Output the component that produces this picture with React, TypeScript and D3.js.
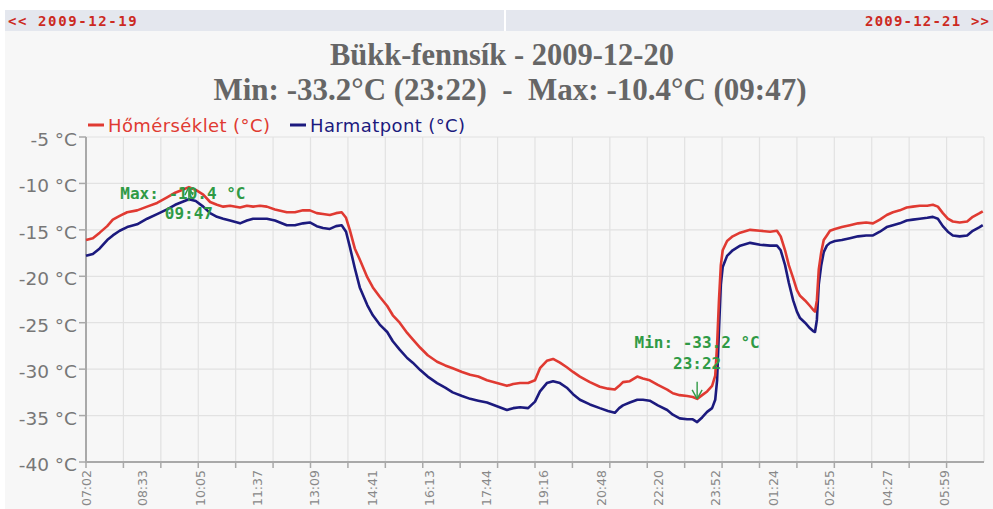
import React from "react";
import * as d3 from "d3";

const times = [
  "07:02","07:13","07:24","07:36","07:45","07:56","08:08","08:24","08:40","08:56",
  "09:12","09:25","09:36","09:47","09:58","10:10","10:21","10:32","10:42","10:53",
  "11:09","11:20","11:30","11:41","11:52","12:05","12:24","12:37","12:50","13:01",
  "13:12","13:22","13:33","13:43","13:52","13:59","14:05","14:13","14:21","14:33",
  "14:42","14:53","15:05","15:14","15:25","15:37","15:46","15:58","16:10","16:25",
  "16:38","16:50","17:05","17:18","17:31","17:45","18:01","18:17","18:27","18:38",
  "18:51","19:02","19:10","19:21","19:31","19:42","19:53","20:03","20:14","20:30",
  "20:46","20:59","21:10","21:17","21:23","21:34","21:46","21:55","22:06","22:19",
  "22:34","22:43","22:54","23:06","23:15","23:22","23:30","23:38","23:46","23:51",
  "23:54","23:57","00:00","00:03","00:10","00:19","00:31","00:47","01:03","01:19",
  "01:30","01:36","01:43","01:49","01:56","02:02","02:07","02:15","02:23","02:28",
  "02:31","02:34","02:37","02:41","02:45","02:50","02:55","03:03","03:14","03:27",
  "03:40","03:53","04:04","04:15","04:26","04:36","04:47","04:58","05:08","05:19",
  "05:31","05:40","05:48","05:56","06:04","06:12","06:23","06:35","06:44","06:55",
  "07:00"
];

const temperature = [
  -16.1,-15.9,-15.3,-14.6,-13.9,-13.5,-13.1,-12.9,-12.5,-12.1,
  -11.5,-11.0,-10.7,-10.4,-10.7,-11.2,-12.0,-12.3,-12.5,-12.4,
  -12.6,-12.4,-12.5,-12.4,-12.5,-12.8,-13.1,-13.1,-12.9,-12.9,
  -13.2,-13.3,-13.4,-13.2,-13.1,-13.7,-15.0,-17.0,-18.2,-20.1,
  -21.2,-22.2,-23.2,-24.2,-25.0,-26.1,-26.8,-27.7,-28.5,-29.2,
  -29.6,-29.9,-30.3,-30.6,-30.8,-31.2,-31.5,-31.8,-31.6,-31.5,
  -31.5,-31.2,-29.9,-29.1,-28.9,-29.3,-29.8,-30.3,-30.8,-31.4,
  -31.9,-32.1,-32.2,-31.8,-31.4,-31.3,-30.8,-31.0,-31.2,-31.7,
  -32.2,-32.6,-32.8,-32.9,-33.0,-33.2,-32.8,-32.4,-31.8,-30.7,
  -27.4,-22.6,-18.8,-17.2,-16.2,-15.7,-15.3,-15.0,-15.1,-15.2,
  -15.1,-15.7,-17.2,-18.8,-20.2,-21.5,-22.1,-22.6,-23.2,-23.6,
  -23.8,-22.6,-19.3,-17.4,-16.1,-15.6,-15.1,-14.9,-14.7,-14.5,
  -14.3,-14.2,-14.3,-13.9,-13.4,-13.1,-12.9,-12.6,-12.5,-12.4,
  -12.4,-12.3,-12.5,-13.2,-13.8,-14.1,-14.2,-14.1,-13.6,-13.2,
  -13.0
];

const dewPoint = [
  -17.8,-17.6,-17.0,-16.1,-15.6,-15.1,-14.7,-14.4,-13.8,-13.3,
  -12.8,-12.3,-12.0,-11.7,-11.9,-12.5,-13.2,-13.6,-13.8,-14.0,
  -14.3,-14.0,-13.8,-13.8,-13.8,-14.0,-14.5,-14.5,-14.3,-14.2,
  -14.6,-14.8,-14.9,-14.6,-14.5,-15.2,-16.8,-19.1,-21.2,-23.1,
  -24.2,-25.2,-26.0,-27.0,-27.9,-28.8,-29.3,-30.1,-30.8,-31.5,
  -32.0,-32.5,-32.9,-33.2,-33.4,-33.6,-34.0,-34.4,-34.2,-34.1,
  -34.2,-33.5,-32.4,-31.5,-31.3,-31.5,-32.0,-32.7,-33.3,-33.8,
  -34.2,-34.5,-34.7,-34.2,-33.9,-33.6,-33.3,-33.3,-33.4,-33.9,
  -34.4,-34.9,-35.3,-35.4,-35.4,-35.7,-35.2,-34.6,-34.2,-33.3,
  -31.2,-25.8,-20.9,-19.0,-17.8,-17.2,-16.7,-16.4,-16.6,-16.7,
  -16.7,-17.2,-18.8,-20.7,-22.6,-23.8,-24.5,-25.0,-25.6,-25.9,
  -26.0,-24.7,-20.9,-18.8,-17.4,-16.7,-16.4,-16.2,-16.1,-15.9,
  -15.7,-15.6,-15.6,-15.2,-14.7,-14.5,-14.3,-14.0,-13.9,-13.8,
  -13.7,-13.6,-13.8,-14.6,-15.2,-15.6,-15.7,-15.6,-15.1,-14.7,
  -14.5
];

const yTicks = [-5, -10, -15, -20, -25, -30, -35, -40];
const xTickLabels = [
  "07:02","08:33","10:05","11:37","13:09","14:41","16:13","17:44",
  "19:16","20:48","22:20","23:52","01:24","02:55","04:27","05:59"
];
const seriesNames = ["Hőmérséklet (°C)", "Harmatpont (°C)"];
const seriesColors = ["#e03a32", "#1c1a7e"];
const titleText = "Bükk-fennsík - 2009-12-20";
const subtitleText = "Min: -33.2°C (23:22)  -  Max: -10.4°C (09:47)";
const prevDay = "<< 2009-12-19";
const nextDay = "2009-12-21 >>";
const minMark = { time: "23:22", value: -33.2, label: "Min: -33.2 °C" };
const maxMark = { time: "09:47", value: -10.4, label: "Max: -10.4 °C" };

const W = 993;
const H = 509;
const left = 86;
const right = 984;
const top = 137;
const bottom = 462;

function toDate(s: string): Date {
  const [h, m] = s.split(":").map(Number);
  const nextDayFlag = h < 7 || (h === 7 && m < 2);
  return new Date(2009, 11, nextDayFlag ? 21 : 20, h, m);
}

const start = new Date(2009, 11, 20, 7, 2);
const end = new Date(2009, 11, 21, 7, 2);

export default function App() {
  const x = d3.scaleTime().domain([start, end]).range([left, right]);
  const y = d3.scaleLinear().domain([-40, -5]).range([bottom, top]);
  const hours = d3.range(0, 25).map((i) => d3.timeHour.offset(start, i));

  const line = d3
    .line<number>()
    .x((_, i) => x(toDate(times[i])))
    .y((d) => y(d));

  const green = "#2f9a45";
  const maxX = x(toDate(maxMark.time));
  const maxY = y(maxMark.value);
  const minX = x(toDate(minMark.time));
  const minY = y(minMark.value);

  return (
    <div style={{ position: "absolute", left: 0, top: 0 }}>
      <svg width={W} height={H} style={{ display: "block" }}>
        <rect x={0} y={0} width={W} height={H} fill="#ffffff" />
        <rect x={5} y={31} width={W - 5} height={H - 31} fill="#f7f7f7" />
        <rect x={5} y={10} width={W - 5} height={21} fill="#e4e7ee" />
        <rect x={504} y={10} width={2} height={21} fill="#ffffff" />
        <text x={8} y={25.5} fill="#cc2a22" fontFamily="DejaVu Sans Mono" fontWeight="bold" fontSize={14} letterSpacing={1.6}>
          {prevDay}
        </text>
        <text x={865} y={25.5} fill="#cc2a22" fontFamily="DejaVu Sans Mono" fontWeight="bold" fontSize={14} letterSpacing={1.2}>
          {nextDay}
        </text>

        <text x={502} y={65} textAnchor="middle" fill="#666" fontFamily="Liberation Serif" fontWeight="bold" fontSize={30.5}>
          {titleText}
        </text>
        <text x={510} y={100} textAnchor="middle" fill="#666" fontFamily="Liberation Serif" fontWeight="bold" fontSize={31} style={{ whiteSpace: "pre" }}>
          {subtitleText}
        </text>

        {/* grid */}
        {hours.slice(1).map((h, i) => (
          <line key={"v" + i} x1={x(h)} x2={x(h)} y1={top} y2={bottom} stroke="#e2e2e2" strokeWidth={1.2} />
        ))}
        {yTicks.map((t) => (
          <line key={"h" + t} x1={left} x2={right} y1={y(t)} y2={y(t)} stroke="#e2e2e2" strokeWidth={1.2} />
        ))}

        {/* axes */}
        <line x1={left} x2={left} y1={top} y2={bottom + 1} stroke="#a9a9a9" strokeWidth={2} />
        <line x1={left} x2={right} y1={bottom} y2={bottom} stroke="#a9a9a9" strokeWidth={2} />
        {yTicks.map((t) => (
          <g key={"yt" + t}>
            <line x1={left - 7} x2={left} y1={y(t)} y2={y(t)} stroke="#a9a9a9" strokeWidth={1.5} />
            <text x={left - 9} y={y(t) + 9} textAnchor="end" fill="#777" fontFamily="DejaVu Sans" fontSize={18.5}>
              {t} °C
            </text>
          </g>
        ))}
        {hours.slice(0, 24).map((h, i) => (
          <line key={"xt" + i} x1={x(h)} x2={x(h)} y1={bottom} y2={bottom + 6} stroke="#a9a9a9" strokeWidth={1.5} />
        ))}
        {xTickLabels.map((l) => {
          const xx = x(toDate(l));
          return (
            <text key={"xl" + l} transform={`translate(${xx},${bottom + 8}) rotate(-90)`} dy="0.36em" textAnchor="end" fill="#888" fontFamily="DejaVu Sans" fontSize={12.5}>
              {l}
            </text>
          );
        })}

        {/* legend */}
        <line x1={88} x2={104} y1={125} y2={125} stroke={seriesColors[0]} strokeWidth={3} />
        <text x={108} y={132} fill={seriesColors[0]} fontFamily="DejaVu Sans" fontSize={18} letterSpacing={0.4}>
          {seriesNames[0]}
        </text>
        <line x1={290} x2={306} y1={125} y2={125} stroke={seriesColors[1]} strokeWidth={3} />
        <text x={310} y={132} fill={seriesColors[1]} fontFamily="DejaVu Sans" fontSize={18} letterSpacing={0.4}>
          {seriesNames[1]}
        </text>

        {/* series */}
        <path d={line(dewPoint) || ""} fill="none" stroke={seriesColors[1]} strokeWidth={2.6} strokeLinejoin="round" />
        <path d={line(temperature) || ""} fill="none" stroke={seriesColors[0]} strokeWidth={2.6} strokeLinejoin="round" />

        {/* annotations */}
        <g stroke={green} strokeWidth={1.4} fill="none">
          <line x1={maxX} x2={maxX} y1={maxY + 14} y2={maxY} />
          <line x1={maxX} x2={maxX - 4} y1={maxY} y2={maxY + 8} />
          <line x1={maxX} x2={maxX + 4} y1={maxY} y2={maxY + 8} />
          <line x1={minX} x2={minX} y1={minY - 17} y2={minY} />
          <line x1={minX} x2={minX - 5} y1={minY} y2={minY - 9} />
          <line x1={minX} x2={minX + 5} y1={minY} y2={minY - 9} />
        </g>
        <g fill={green} fontFamily="DejaVu Sans Mono" fontWeight="bold" fontSize={16} textAnchor="middle">
          <text x={maxX - 6} y={maxY + 12}>{maxMark.label}</text>
          <text x={maxX} y={maxY + 32}>{maxMark.time}</text>
          <text x={minX} y={minY - 51}>{minMark.label}</text>
          <text x={minX} y={minY - 30}>{minMark.time}</text>
        </g>
      </svg>
    </div>
  );
}
